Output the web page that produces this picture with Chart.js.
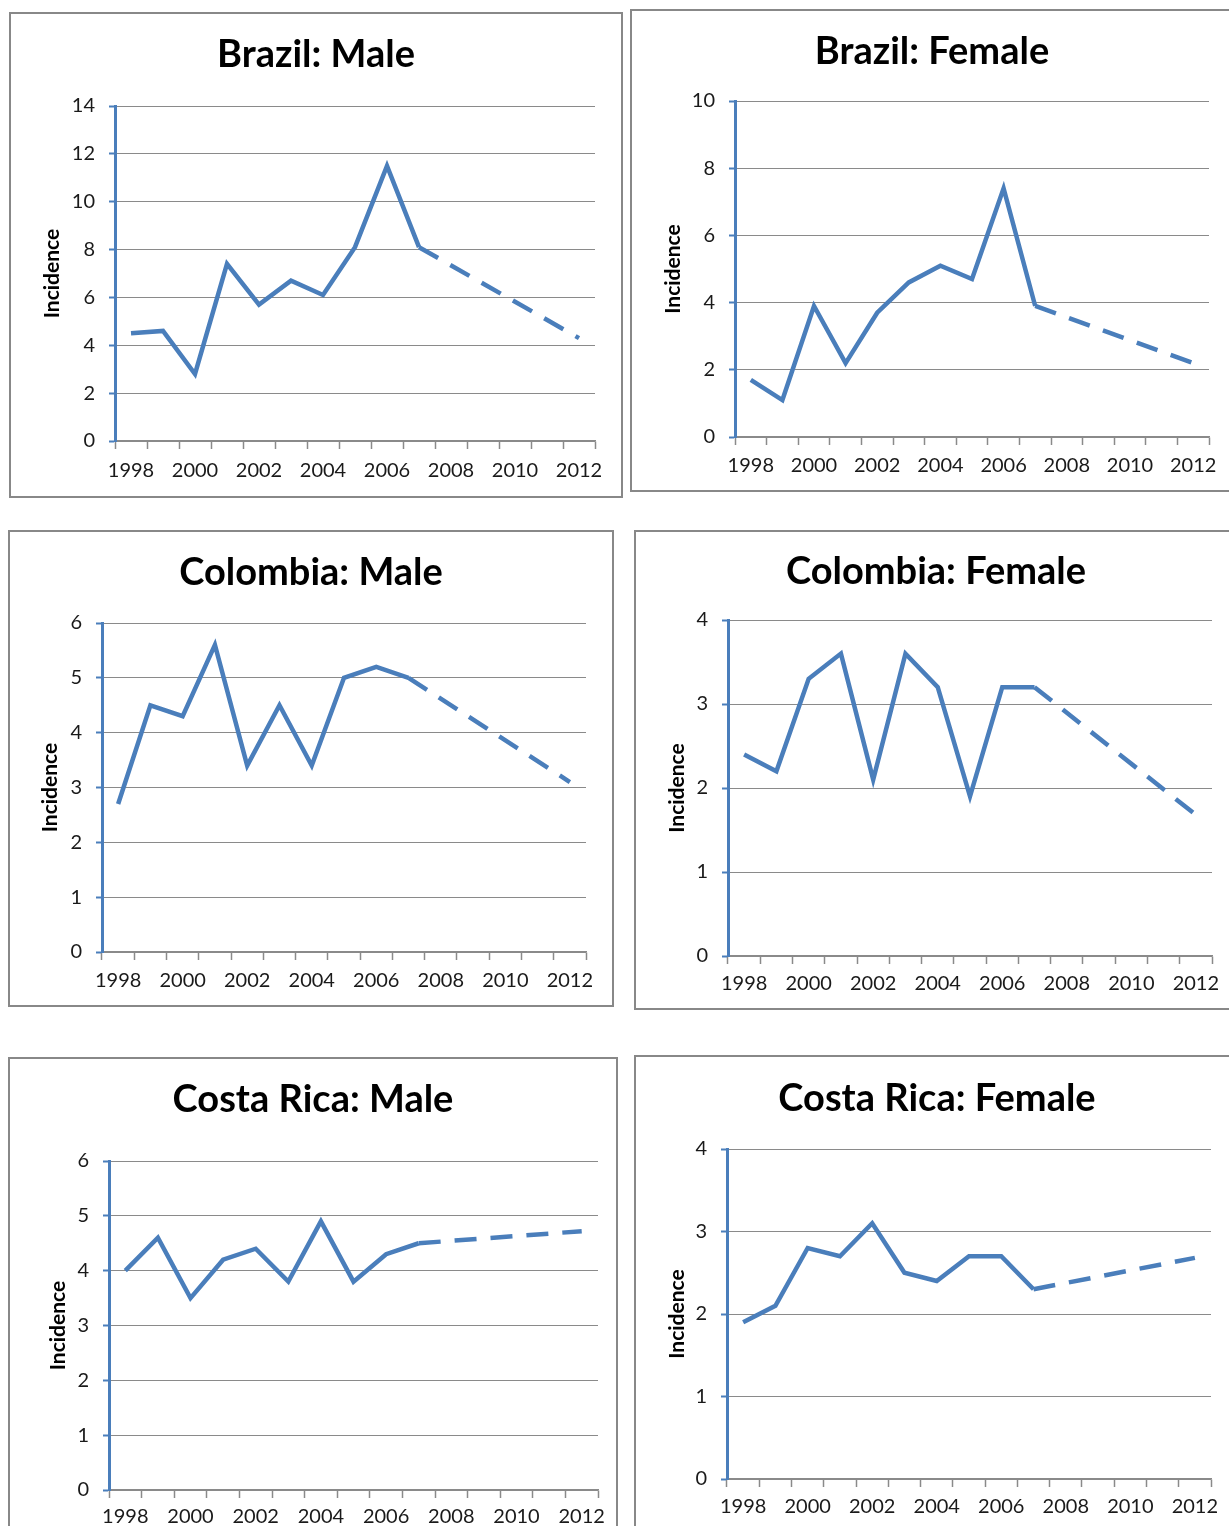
<!DOCTYPE html>
<html><head><meta charset="utf-8">
<script src="https://cdn.jsdelivr.net/npm/chart.js@4.4.1/dist/chart.umd.min.js"></script>
<style>
html,body{margin:0;padding:0;background:#fff;overflow:hidden;width:1229px;height:1526px;position:relative;}
.panel{position:absolute;border:2px solid #888;box-sizing:border-box;background:#fff;}
.panel canvas{display:block;}
</style></head><body>
<script>
// ---- data ----
const years = ['1998','1999','2000','2001','2002','2003','2004','2005','2006','2007','2008','2009','2010','2011','2012'];
const titles = ['Brazil: Male','Brazil: Female','Colombia: Male','Colombia: Female','Costa Rica: Male','Costa Rica: Female'];
const yTitle = 'Incidence';
const brazilMale      = [4.5, 4.6, 2.8, 7.4, 5.7, 6.7, 6.1, 8.1, 11.5, 8.1, null, null, null, null, 4.3];
const brazilFemale    = [1.7, 1.1, 3.9, 2.2, 3.7, 4.6, 5.1, 4.7, 7.4, 3.9, null, null, null, null, 2.2];
const colombiaMale    = [2.7, 4.5, 4.3, 5.6, 3.4, 4.5, 3.4, 5.0, 5.2, 5.0, null, null, null, null, 3.1];
const colombiaFemale  = [2.4, 2.2, 3.3, 3.6, 2.1, 3.6, 3.2, 1.9, 3.2, 3.2, null, null, null, null, 1.68];
const costaRicaMale   = [4.0, 4.6, 3.5, 4.2, 4.4, 3.8, 4.9, 3.8, 4.3, 4.5, null, null, null, null, 4.72];
const costaRicaFemale = [1.9, 2.1, 2.8, 2.7, 3.1, 2.5, 2.4, 2.7, 2.7, 2.3, null, null, null, null, 2.68];
const yMaxes  = [14, 10, 6, 4, 6, 4];
const ySteps  = [2, 2, 1, 1, 1, 1];
const lastObservedIndex = 9; // 2007; after it the line is a dashed projection
const series = [brazilMale, brazilFemale, colombiaMale, colombiaFemale, costaRicaMale, costaRicaFemale];

// ---- layout (page pixels) ----
const layouts = [
  {box:{l:9,t:12,r:623,b:498},    area:{l:115,t:106,r:595,b:441},  titleY:55,   yTitleX:52,  xLabelY:471},
  {box:{l:630,t:9,r:1234,b:492},  area:{l:735,t:101,r:1209,b:437}, titleY:52,   yTitleX:673, xLabelY:466},
  {box:{l:8,t:530,r:614,b:1007},  area:{l:102,t:623,r:586,b:952},  titleY:573,  yTitleX:50,  xLabelY:981},
  {box:{l:634,t:530,r:1238,b:1010},area:{l:728,t:620,r:1212,b:956},titleY:572,  yTitleX:677, xLabelY:984},
  {box:{l:8,t:1057,r:618,b:1540}, area:{l:109,t:1161,r:598,b:1490},titleY:1100, yTitleX:58,  xLabelY:1517},
  {box:{l:634,t:1055,r:1240,b:1540},area:{l:727,t:1149,r:1211,b:1479},titleY:1099,yTitleX:677,xLabelY:1507}
];

const BLUE = '#4a7ebb';
const GRID = '#8a8a8a';
const FONT = 'Lato, "Open Sans", sans-serif';
const TITLE_SIZE = 38, TICK_SIZE = 20, YT_SIZE = 21, LH = 1.2;
const BORDER = 2;

layouts.forEach((L, i) => {
  const div = document.createElement('div');
  div.className = 'panel';
  div.style.left = L.box.l + 'px';
  div.style.top = L.box.t + 'px';
  div.style.width = (L.box.r - L.box.l) + 'px';
  div.style.height = (L.box.b - L.box.t) + 'px';
  document.body.appendChild(div);
  const cx = L.box.l + BORDER, cy = L.box.t + BORDER;
  const cw = L.box.r - L.box.l - 2*BORDER, ch = L.box.b - L.box.t - 2*BORDER;
  const canvas = document.createElement('canvas');
  canvas.width = cw; canvas.height = ch;
  canvas.style.width = cw + 'px'; canvas.style.height = ch + 'px';
  div.appendChild(canvas);

  const padSide = (cx + cw) - L.area.r;
  const yWidth = L.area.l - cx - padSide;
  const tlh = TITLE_SIZE * LH;
  const titlePadTop = L.titleY - cy - tlh/2;
  const titlePadBottom = (L.area.t - cy) - titlePadTop - tlh;
  const ytPadTop = Math.max(0, L.yTitleX - cx - padSide - YT_SIZE*LH/2);
  const xHeight = (cy + ch) - L.area.b;
  const xTickLen = 8;
  const xTickPad = L.xLabelY - L.area.b - xTickLen - TICK_SIZE*LH/2;

  new Chart(canvas, {
    type: 'line',
    data: {
      labels: years,
      datasets: [{
        data: series[i],
        borderColor: BLUE,
        borderWidth: 4.5,
        pointRadius: 0,
        pointHoverRadius: 0,
        tension: 0,
        fill: false,
        spanGaps: true,
        segment: {
          borderDash: ctx => ctx.p0DataIndex >= lastObservedIndex ? [22, 14] : undefined
        }
      }]
    },
    options: {
      responsive: false,
      animation: false,
      devicePixelRatio: 1,
      events: [],
      layout: {padding: {left: padSide, right: padSide, top: 0, bottom: 0}},
      plugins: {
        legend: {display: false},
        tooltip: {enabled: false},
        title: {
          display: true,
          text: titles[i],
          color: '#000',
          font: {family: FONT, size: TITLE_SIZE, weight: 'bold', lineHeight: LH},
          padding: {top: titlePadTop, bottom: titlePadBottom}
        }
      },
      scales: {
        x: {
          type: 'category',
          offset: true,
          grid: {offset: true, drawOnChartArea: false, drawTicks: true, tickLength: xTickLen, tickColor: GRID, tickWidth: 1.5},
          border: {display: true, color: GRID, width: 1.5},
          ticks: {
            autoSkip: false, maxRotation: 0, minRotation: 0,
            padding: xTickPad,
            color: '#1a1a1a',
            font: {family: FONT, size: TICK_SIZE, lineHeight: LH},
            callback: (v, idx) => idx % 2 === 0 ? years[idx] : ''
          },
          afterFit: s => { s.height = xHeight; }
        },
        y: {
          min: 0, max: yMaxes[i],
          grid: {color: GRID, lineWidth: 1, drawTicks: true, tickLength: 6, tickColor: BLUE, tickWidth: 2},
          border: {display: true, color: BLUE, width: 3},
          ticks: {stepSize: ySteps[i], padding: 14, color: '#1a1a1a', font: {family: FONT, size: TICK_SIZE, lineHeight: LH}},
          title: {
            display: true, text: yTitle, color: '#000',
            font: {family: FONT, size: YT_SIZE, weight: 'bold', lineHeight: LH},
            padding: {top: ytPadTop, bottom: 0}
          },
          afterFit: s => { s.width = yWidth; }
        }
      }
    }
  });
});
</script>
</body></html>
